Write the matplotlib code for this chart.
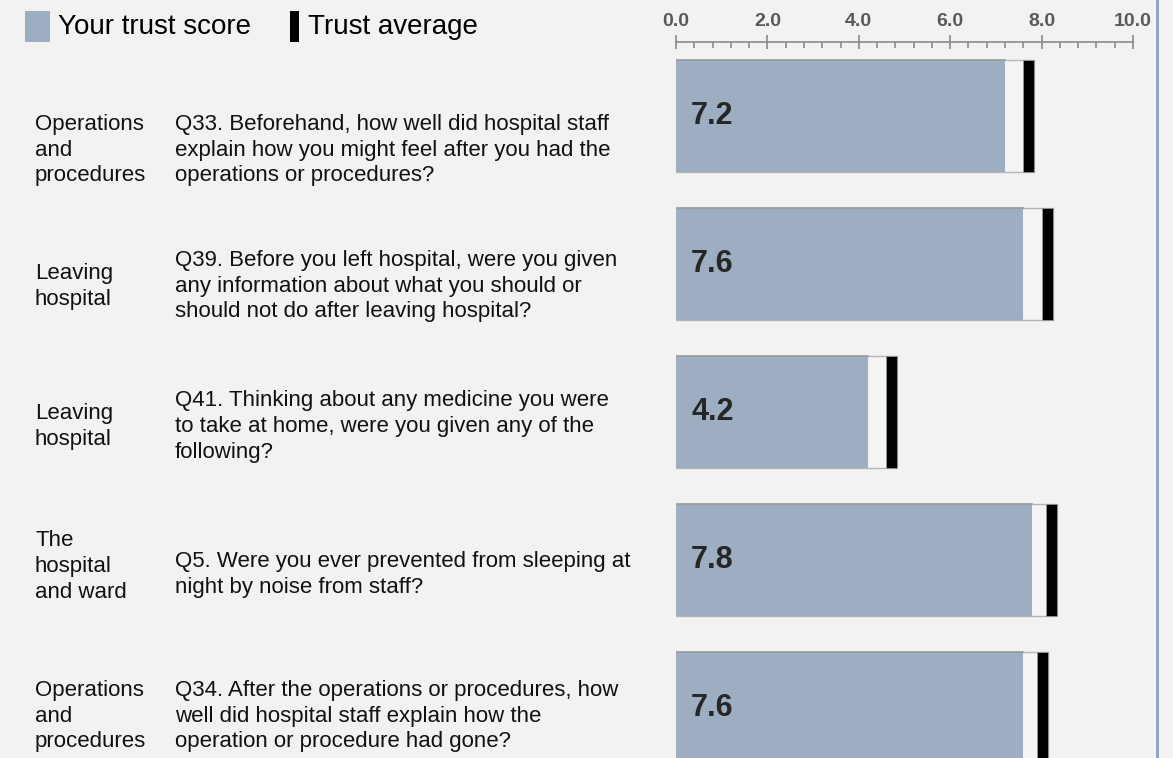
import matplotlib
matplotlib.use("Agg")
import matplotlib.pyplot as plt
from matplotlib.patches import Rectangle
from matplotlib.lines import Line2D
from matplotlib.transforms import blended_transform_factory
from matplotlib.ticker import MultipleLocator

plt.rcParams['font.family'] = ['Liberation Sans', 'DejaVu Sans']

# data
categories = ["Operations\nand\nprocedures", "Leaving\nhospital", "Leaving\nhospital",
              "The\nhospital\nand ward", "Operations\nand\nprocedures"]
questions = [
    "Q33. Beforehand, how well did hospital staff\nexplain how you might feel after you had the\noperations or procedures?",
    "Q39. Before you left hospital, were you given\nany information about what you should or\nshould not do after leaving hospital?",
    "Q41. Thinking about any medicine you were\nto take at home, were you given any of the\nfollowing?",
    "Q5. Were you ever prevented from sleeping at\nnight by noise from staff?",
    "Q34. After the operations or procedures, how\nwell did hospital staff explain how the\noperation or procedure had gone?",
]
scores = [7.2, 7.6, 4.2, 7.8, 7.6]
trust_avg = [7.6, 8.0, 4.6, 8.1, 7.9]
tick_vals = [0, 2, 4, 6, 8, 10]

bg = "#f2f2f2"
blue = "#9eaec2"
marker_w = 0.24
bar_h = 0.757

fig = plt.figure(figsize=(11.73, 7.58), dpi=100, facecolor=bg)
W, H = 1173, 758
# axes from x=676..1133 px, y=42..758 px
ax = fig.add_axes([676 / W, 0, (1133 - 676) / W, (758 - 42) / H])
ax.set_facecolor(bg)
ax.set_xlim(0, 10)
ax.set_ylim(4.338, -0.5)

for i, (s, a) in enumerate(zip(scores, trust_avg)):
    top = i - bar_h / 2
    ax.add_patch(Rectangle((0, top), a + marker_w, bar_h, facecolor="#f4f4f4",
                           edgecolor="#b5b5b5", lw=1, zorder=1))
    ax.add_patch(Rectangle((0, top), s, bar_h, facecolor=blue, edgecolor="none", zorder=2))
    ax.plot([0, s], [top, top], color="#9a9a9a", lw=1.2, zorder=3)
    ax.add_patch(Rectangle((a, top), marker_w, bar_h, facecolor="black",
                           edgecolor="#999999", lw=0.6, zorder=3))
    ax.text(0.33, i, f"{s:.1f}", fontsize=22, fontweight="bold", color="#262626",
            ha="left", va="center", zorder=4)

ax.xaxis.set_ticks_position("top")
ax.set_xticks(tick_vals)
ax.set_xticklabels([f"{v:.1f}" for v in tick_vals], fontsize=14, fontweight="bold",
                   color="#595959")
ax.xaxis.set_minor_locator(MultipleLocator(0.4))
ax.tick_params(axis="x", which="major", direction="inout", length=10, width=1.2,
               color="#8a8a8a", pad=4)
ax.tick_params(axis="x", which="minor", direction="in", length=4, width=1.2,
               color="#8a8a8a")
ax.set_yticks([])
for side in ["left", "right", "bottom"]:
    ax.spines[side].set_visible(False)
ax.spines["top"].set_color("#8a8a8a")
ax.spines["top"].set_linewidth(1.2)

# row labels
cat_offset = [0.23, 0.15, 0.10, 0.045, 0.055]
q_offset = [0.23, 0.15, 0.10, 0.10, 0.055]
tr = blended_transform_factory(fig.transFigure, ax.transData)
for i, (c, q) in enumerate(zip(categories, questions)):
    ax.text(35 / W, i + cat_offset[i], c, transform=tr, fontsize=16, ha="left",
            va="center", linespacing=1.3, color="#111111", clip_on=False)
    ax.text(175 / W, i + q_offset[i], q, transform=tr, fontsize=16, ha="left",
            va="center", linespacing=1.3, color="#111111", clip_on=False)

# legend
fig.patches.append(Rectangle((25 / W, 1 - 42 / H), 25 / W, 31 / H, transform=fig.transFigure,
                             facecolor=blue, edgecolor="none"))
fig.text(58 / W, 1 - 27 / H, "Your trust score", fontsize=20, ha="left", va="center")
fig.patches.append(Rectangle((290 / W, 1 - 42 / H), 9 / W, 31 / H, transform=fig.transFigure,
                             facecolor="black", edgecolor="none"))
fig.text(308 / W, 1 - 27 / H, "Trust average", fontsize=20, ha="left", va="center")

# right border
fig.lines.append(Line2D([1157 / W, 1157 / W], [0, 1], transform=fig.transFigure,
                        color="#8da0bf", lw=2))

fig.savefig("out.png", dpi=100, facecolor=bg)
